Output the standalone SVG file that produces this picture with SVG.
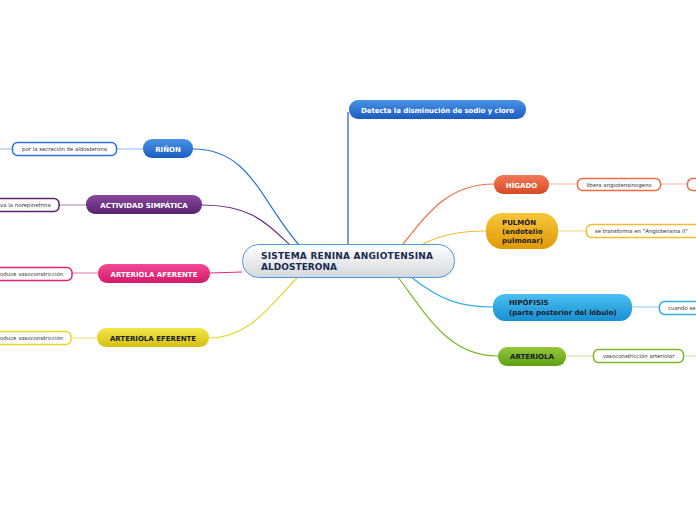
<svg xmlns="http://www.w3.org/2000/svg" width="696" height="520" viewBox="0 0 696 520">
<defs>
<linearGradient id="gc" x1="0" y1="0" x2="0" y2="1"><stop offset="0" stop-color="#ffffff"/><stop offset="1" stop-color="#d4d8dc"/></linearGradient>
<linearGradient id="gBlue" x1="0" y1="0" x2="0" y2="1"><stop offset="0" stop-color="#4a93e6"/><stop offset="1" stop-color="#1b5cbf"/></linearGradient>
<linearGradient id="gPurple" x1="0" y1="0" x2="0" y2="1"><stop offset="0" stop-color="#874a9c"/><stop offset="1" stop-color="#5b2370"/></linearGradient>
<linearGradient id="gPink" x1="0" y1="0" x2="0" y2="1"><stop offset="0" stop-color="#f24a95"/><stop offset="1" stop-color="#d51868"/></linearGradient>
<linearGradient id="gYellow" x1="0" y1="0" x2="0" y2="1"><stop offset="0" stop-color="#f2e64a"/><stop offset="1" stop-color="#d6c012"/></linearGradient>
<linearGradient id="gOrange" x1="0" y1="0" x2="0" y2="1"><stop offset="0" stop-color="#f27a58"/><stop offset="1" stop-color="#d64a22"/></linearGradient>
<linearGradient id="gAmber" x1="0" y1="0" x2="0" y2="1"><stop offset="0" stop-color="#f8c63a"/><stop offset="1" stop-color="#e09a06"/></linearGradient>
<linearGradient id="gSky" x1="0" y1="0" x2="0" y2="1"><stop offset="0" stop-color="#4cc0f2"/><stop offset="1" stop-color="#178fd2"/></linearGradient>
<linearGradient id="gGreen" x1="0" y1="0" x2="0" y2="1"><stop offset="0" stop-color="#96c83c"/><stop offset="1" stop-color="#5e9e12"/></linearGradient>
</defs>
<style>
.t{font-family:"DejaVu Sans",Verdana,sans-serif;font-weight:bold;font-size:7px}
.w{fill:#ffffff}
.d{fill:#1a1a2a}
.s{font-family:"DejaVu Sans",Verdana,sans-serif;font-size:5.4px;fill:#333333}
.sub{fill:#ffffff;stroke-width:1.5}
.c{fill:none;stroke-width:1.2}
.ct{font-family:"DejaVu Sans",Verdana,sans-serif;font-weight:bold;font-size:9px;fill:#1a2a50}
</style>
<rect width="696" height="520" fill="#ffffff"/>
<g id="connectors">
<path class="c" stroke="#1b5cbf" d="M348 244 L348 112"/>
<path class="c" stroke="#2a73d8" d="M193 149 C250 149 260 200 299 245"/>
<path class="c" stroke="#6a2f82" d="M202 205 C250 205 265 222 290 245"/>
<path class="c" stroke="#e22478" d="M242 272 L210 273"/>
<path class="c" stroke="#e8d62a" d="M298 277 C270 305 250 338 209 338"/>
<path class="c" stroke="#f06a40" d="M403 244 C430 210 450 184 494 184"/>
<path class="c" stroke="#f4bc30" d="M423 244 C440 235 460 231 486 231"/>
<path class="c" stroke="#30aee8" d="M411 277 C440 300 460 307 493 307"/>
<path class="c" stroke="#7ab828" d="M398 277 C430 320 450 356 498 356"/>
<path class="c" stroke="#8ab8ec" d="M117 149 L143 149 M0 149 L12 149"/>
<path class="c" stroke="#b696c4" d="M59 205 L86 205"/>
<path class="c" stroke="#f08ab8" d="M72 273 L98 273"/>
<path class="c" stroke="#efe47a" d="M71 338 L97 338"/>
<path class="c" stroke="#f8b8a0" d="M549 184 L577 184 M660 184 L687 184"/>
<path class="c" stroke="#fbdc90" d="M558 231 L586 231"/>
<path class="c" stroke="#9ad6f4" d="M632 307 L659 307"/>
<path class="c" stroke="#c4e09a" d="M566 356 L593 356 M684 356 L696 356"/>
</g>
<g id="center">
<rect x="242.5" y="244.5" width="212" height="33" rx="16" fill="url(#gc)" stroke="#4a9ad8" stroke-width="1"/>
<text class="ct" x="261" y="259" textLength="172">SISTEMA RENINA ANGIOTENSINA</text>
<text class="ct" x="261" y="270" textLength="76">ALDOSTERONA</text>
</g>
<g id="detecta">
<rect x="349" y="100" width="177" height="19" rx="9" fill="url(#gBlue)"/>
<text class="t w" x="437.5" y="112.5" text-anchor="middle" textLength="153">Detecta la disminución de sodio y cloro</text>
</g>
<g id="rinon">
<rect x="143" y="139" width="50" height="19" rx="9" fill="url(#gBlue)"/>
<text class="t w" x="168" y="151.5" text-anchor="middle">RIÑON</text>
</g>
<g id="rinon-sub">
<rect class="sub" x="12.5" y="142.5" width="104" height="13" rx="5" stroke="#2a73d8"/>
<text class="s" x="64.5" y="151" text-anchor="middle">por la secreción de aldosterona</text>
</g>
<g id="simpatica">
<rect x="86" y="195" width="116" height="19" rx="9" fill="url(#gPurple)"/>
<text class="t w" x="144" y="207.5" text-anchor="middle">ACTIVIDAD SIMPÁTICA</text>
</g>
<g id="simpatica-sub">
<rect class="sub" x="-20" y="198.5" width="79" height="13" rx="5" stroke="#5b2370"/>
<text class="s" x="0" y="207">va la norepinefrina</text>
</g>
<g id="aferente">
<rect x="98" y="264" width="112" height="19" rx="9" fill="url(#gPink)"/>
<text class="t w" x="154" y="276.5" text-anchor="middle">ARTERIOLA AFERENTE</text>
</g>
<g id="aferente-sub">
<rect class="sub" x="-20" y="267.5" width="92" height="13" rx="5" stroke="#e22478"/>
<text class="s" x="0" y="276">oduce vasoconstricción</text>
</g>
<g id="eferente">
<rect x="97" y="328" width="112" height="19" rx="9" fill="url(#gYellow)"/>
<text class="t d" x="153" y="340.5" text-anchor="middle">ARTERIOLA EFERENTE</text>
</g>
<g id="eferente-sub">
<rect class="sub" x="-20" y="331.5" width="91" height="13" rx="5" stroke="#e8d62a"/>
<text class="s" x="0" y="340">oduce vasoconstricción</text>
</g>
<g id="higado">
<rect x="494" y="175" width="55" height="19" rx="9" fill="url(#gOrange)"/>
<text class="t w" x="521.5" y="187.5" text-anchor="middle">HÍGADO</text>
</g>
<g id="higado-sub">
<rect class="sub" x="577.5" y="178.5" width="83" height="12" rx="5" stroke="#f06a40"/>
<text class="s" x="619" y="186.5" text-anchor="middle">libera angiotensinogeno</text>
</g>
<g id="higado-sub2">
<rect class="sub" x="687.5" y="178.5" width="30" height="12" rx="5" stroke="#f06a40"/>
</g>
<g id="pulmon">
<rect x="486" y="213" width="72" height="36" rx="16" fill="url(#gAmber)"/>
<text class="t d" x="502" y="225">PULMÓN</text>
<text class="t d" x="502" y="234">(endotelio</text>
<text class="t d" x="502" y="243">pulmonar)</text>
</g>
<g id="pulmon-sub">
<rect class="sub" x="586.5" y="224.5" width="130" height="13" rx="5" stroke="#f4bc30"/>
<text class="s" x="595" y="233">se transforma en "Angiotensina II"</text>
</g>
<g id="hipofisis">
<rect x="493" y="294" width="139" height="27" rx="12" fill="url(#gSky)"/>
<text class="t d" x="509" y="305">HIPÓFISIS</text>
<text class="t d" x="509" y="315">(parte posterior del lóbulo)</text>
</g>
<g id="hipofisis-sub">
<rect class="sub" x="659.5" y="301.5" width="60" height="13" rx="5" stroke="#30aee8"/>
<text class="s" x="668" y="310">cuando se</text>
</g>
<g id="arteriola">
<rect x="498" y="347" width="68" height="19" rx="9" fill="url(#gGreen)"/>
<text class="t d" x="532" y="359" text-anchor="middle">ARTERIOLA</text>
</g>
<g id="arteriola-sub">
<rect class="sub" x="593.5" y="349.5" width="90" height="13" rx="5" stroke="#7ab828"/>
<text class="s" x="638.5" y="358" text-anchor="middle">vasoconstricción arteriolar</text>
</g>
</svg>
